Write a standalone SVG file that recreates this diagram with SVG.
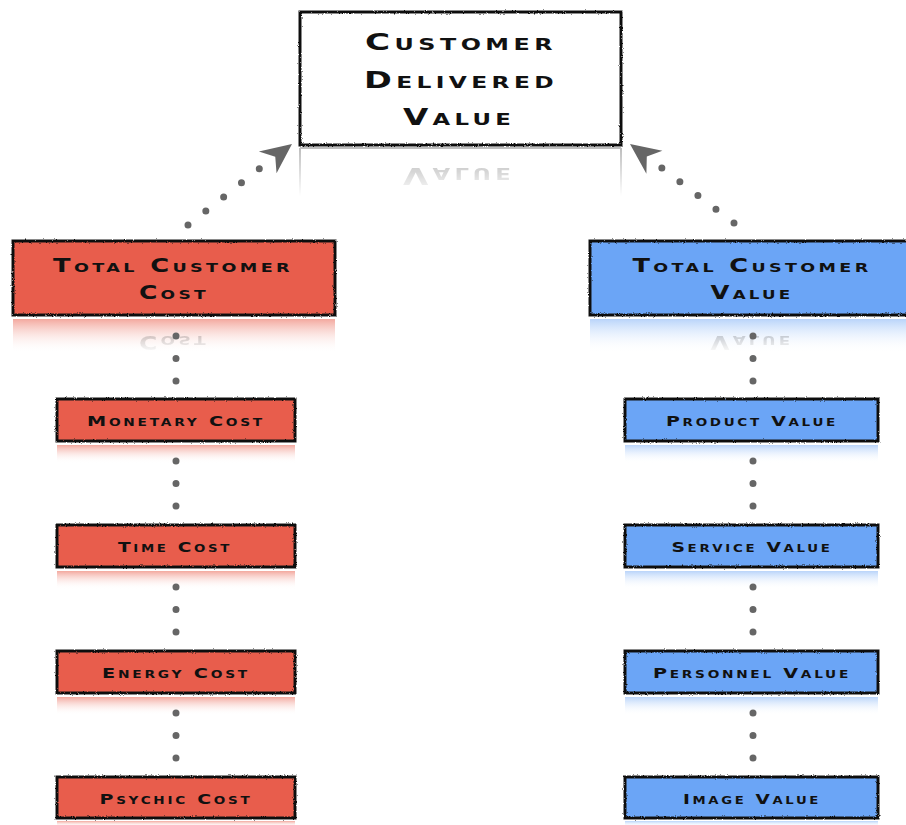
<svg xmlns="http://www.w3.org/2000/svg" width="906" height="825" viewBox="0 0 906 825">
<style>
  .lbl { font-family: "DejaVu Sans", "Liberation Sans", sans-serif; font-weight: bold; font-variant: small-caps; fill: #111; text-anchor: middle; }
  .big { font-size: 23px; letter-spacing: 3px; }
  .mid { font-size: 19px; letter-spacing: 2.5px; }
  .sm { font-size: 14px; letter-spacing: 2px; }
  .border { fill: none; stroke: #111; stroke-width: 3; filter: url(#rough); }
  .red { fill: #E85D4C; }
  .blue { fill: #6BA5F6; }
  .refline { stroke: #8a8a8a; stroke-width: 2.5; filter: url(#rough); }
  .dots { fill: none; stroke: #666; stroke-width: 7; stroke-linecap: round; stroke-dasharray: 0 22.5; }
  .ref { opacity: 0.35; }
</style>
<defs>
  <filter id="rough" x="-5%" y="-20%" width="110%" height="140%">
    <feTurbulence type="fractalNoise" baseFrequency="0.9" numOctaves="2" seed="3" result="n"/>
    <feDisplacementMap in="SourceGraphic" in2="n" scale="2.5" xChannelSelector="R" yChannelSelector="G"/>
  </filter>
  <linearGradient id="fadeRed" x1="0" y1="0" x2="0" y2="1">
    <stop offset="0" stop-color="#F3A89E"/>
    <stop offset="1" stop-color="#FFFFFF" stop-opacity="0"/>
  </linearGradient>
  <linearGradient id="fadeBlue" x1="0" y1="0" x2="0" y2="1">
    <stop offset="0" stop-color="#B9D4FA"/>
    <stop offset="1" stop-color="#FFFFFF" stop-opacity="0"/>
  </linearGradient>
  <linearGradient id="maskGrad" x1="0" y1="0" x2="0" y2="1">
    <stop offset="0" stop-color="#fff"/>
    <stop offset="1" stop-color="#000"/>
  </linearGradient>
  <mask id="mTop" maskUnits="userSpaceOnUse" x="290" y="146" width="340" height="50">
    <rect x="290" y="146" width="340" height="50" fill="url(#maskGrad)"/>
  </mask>
  <mask id="mBig" maskUnits="userSpaceOnUse" x="0" y="318" width="906" height="36">
    <rect x="0" y="318" width="906" height="36" fill="url(#maskGrad)"/>
  </mask>
  <marker id="dart" markerUnits="userSpaceOnUse" viewBox="-32 -16 34 32" refX="0" refY="0" markerWidth="34" markerHeight="32" orient="auto">
    <path d="M0,0 L-31,-14 L-21,0 L-30,14 Z" fill="#666"/>
  </marker>
</defs>

<rect width="906" height="825" fill="#fff"/>

<g id="customer-delivered-value">
  <rect x="300" y="12" width="321" height="133" fill="#fff"/>
  <rect class="border" x="300" y="12" width="321" height="133"/>
  <text class="lbl big" x="461" y="50" textLength="192" lengthAdjust="spacingAndGlyphs">Customer</text>
  <text class="lbl big" x="461" y="88" textLength="194" lengthAdjust="spacingAndGlyphs">Delivered</text>
  <text class="lbl big" x="459" y="125" textLength="112" lengthAdjust="spacingAndGlyphs">Value</text>
  <g mask="url(#mTop)">
    <line x1="300" y1="148" x2="621" y2="148" stroke="#bbb" stroke-width="2"/>
    <line x1="300" y1="148" x2="300" y2="196" stroke="#bbb" stroke-width="2"/>
    <line x1="621" y1="148" x2="621" y2="196" stroke="#bbb" stroke-width="2"/>
    <text class="lbl big ref" transform="translate(0,293) scale(1,-1)" x="459" y="125" textLength="112" lengthAdjust="spacingAndGlyphs">Value</text>
  </g>
</g>

<g id="total-customer-cost">
  <rect x="13" y="319" width="322" height="34" fill="url(#fadeRed)"/>
  <line class="refline" x1="13" y1="319" x2="335" y2="319"/>
  <rect class="red" x="13" y="241" width="322" height="74"/>
  <rect class="border" x="13" y="241" width="322" height="74"/>
  <text class="lbl mid" x="173" y="272" textLength="240" lengthAdjust="spacingAndGlyphs">Total Customer</text>
  <text class="lbl mid" x="174" y="299" textLength="70" lengthAdjust="spacingAndGlyphs">Cost</text>
  <g mask="url(#mBig)">
    <text class="lbl mid ref" transform="translate(0,635) scale(1,-1)" x="174" y="299" textLength="70" lengthAdjust="spacingAndGlyphs">Cost</text>
  </g>
</g>

<g id="total-customer-value">
  <rect x="590" y="319" width="330" height="34" fill="url(#fadeBlue)"/>
  <line class="refline" x1="590" y1="319" x2="920" y2="319"/>
  <rect class="blue" x="590" y="241" width="330" height="74"/>
  <rect class="border" x="590" y="241" width="330" height="74"/>
  <text class="lbl mid" x="752" y="272" textLength="239" lengthAdjust="spacingAndGlyphs">Total Customer</text>
  <text class="lbl mid" x="752" y="299" textLength="83" lengthAdjust="spacingAndGlyphs">Value</text>
  <g mask="url(#mBig)">
    <text class="lbl mid ref" transform="translate(0,635) scale(1,-1)" x="752" y="299" textLength="83" lengthAdjust="spacingAndGlyphs">Value</text>
  </g>
</g>

<g id="monetary-cost">
  <rect x="57" y="445" width="238" height="18" fill="url(#fadeRed)"/>
  <line class="refline" x1="57" y1="445" x2="295" y2="445"/>
  <rect class="red" x="57" y="399" width="238" height="42"/>
  <rect class="border" x="57" y="399" width="238" height="42"/>
  <text class="lbl sm" x="176" y="426" textLength="178" lengthAdjust="spacingAndGlyphs">Monetary Cost</text>
</g>

<g id="time-cost">
  <rect x="57" y="571" width="238" height="18" fill="url(#fadeRed)"/>
  <line class="refline" x1="57" y1="571" x2="295" y2="571"/>
  <rect class="red" x="57" y="525" width="238" height="42"/>
  <rect class="border" x="57" y="525" width="238" height="42"/>
  <text class="lbl sm" x="175" y="552" textLength="114" lengthAdjust="spacingAndGlyphs">Time Cost</text>
</g>

<g id="energy-cost">
  <rect x="57" y="697" width="238" height="18" fill="url(#fadeRed)"/>
  <line class="refline" x1="57" y1="697" x2="295" y2="697"/>
  <rect class="red" x="57" y="651" width="238" height="42"/>
  <rect class="border" x="57" y="651" width="238" height="42"/>
  <text class="lbl sm" x="176" y="678" textLength="148" lengthAdjust="spacingAndGlyphs">Energy Cost</text>
</g>

<g id="psychic-cost">
  <rect x="57" y="821" width="238" height="6" fill="url(#fadeRed)"/>
  <line class="refline" x1="57" y1="822" x2="295" y2="822"/>
  <rect class="red" x="57" y="777" width="238" height="41"/>
  <rect class="border" x="57" y="777" width="238" height="41"/>
  <text class="lbl sm" x="176" y="804" textLength="153" lengthAdjust="spacingAndGlyphs">Psychic Cost</text>
</g>

<g id="product-value">
  <rect x="625" y="445" width="253" height="18" fill="url(#fadeBlue)"/>
  <line class="refline" x1="625" y1="445" x2="878" y2="445"/>
  <rect class="blue" x="625" y="399" width="253" height="42"/>
  <rect class="border" x="625" y="399" width="253" height="42"/>
  <text class="lbl sm" x="752" y="426" textLength="172" lengthAdjust="spacingAndGlyphs">Product Value</text>
</g>

<g id="service-value">
  <rect x="625" y="571" width="253" height="18" fill="url(#fadeBlue)"/>
  <line class="refline" x1="625" y1="571" x2="878" y2="571"/>
  <rect class="blue" x="625" y="525" width="253" height="42"/>
  <rect class="border" x="625" y="525" width="253" height="42"/>
  <text class="lbl sm" x="752" y="552" textLength="161" lengthAdjust="spacingAndGlyphs">Service Value</text>
</g>

<g id="personnel-value">
  <rect x="625" y="697" width="253" height="18" fill="url(#fadeBlue)"/>
  <line class="refline" x1="625" y1="697" x2="878" y2="697"/>
  <rect class="blue" x="625" y="651" width="253" height="42"/>
  <rect class="border" x="625" y="651" width="253" height="42"/>
  <text class="lbl sm" x="752" y="678" textLength="198" lengthAdjust="spacingAndGlyphs">Personnel Value</text>
</g>

<g id="image-value">
  <rect x="625" y="821" width="253" height="6" fill="url(#fadeBlue)"/>
  <line class="refline" x1="625" y1="822" x2="878" y2="822"/>
  <rect class="blue" x="625" y="777" width="253" height="41"/>
  <rect class="border" x="625" y="777" width="253" height="41"/>
  <text class="lbl sm" x="752" y="804" textLength="138" lengthAdjust="spacingAndGlyphs">Image Value</text>
</g>

<g id="connectors">
  <path class="dots" d="M188,225 L259.5,168.6" style="stroke-dasharray:0 22.7"/>
  <path d="M259,169 L292,144" fill="none" stroke="none" marker-end="url(#dart)"/>
  <path class="dots" d="M734,223 L661.6,167.7" style="stroke-dasharray:0 22.7"/>
  <path d="M662,168 L630,144" fill="none" stroke="none" marker-end="url(#dart)"/>
  <path class="dots" d="M176,336 V381.3"/>
  <path class="dots" d="M176,461 V506.3"/>
  <path class="dots" d="M176,587 V632.3"/>
  <path class="dots" d="M176,713 V758.3"/>
  <path class="dots" d="M753,336 V381.3"/>
  <path class="dots" d="M753,461 V506.3"/>
  <path class="dots" d="M753,587 V632.3"/>
  <path class="dots" d="M753,713 V758.3"/>
</g>
</svg>
